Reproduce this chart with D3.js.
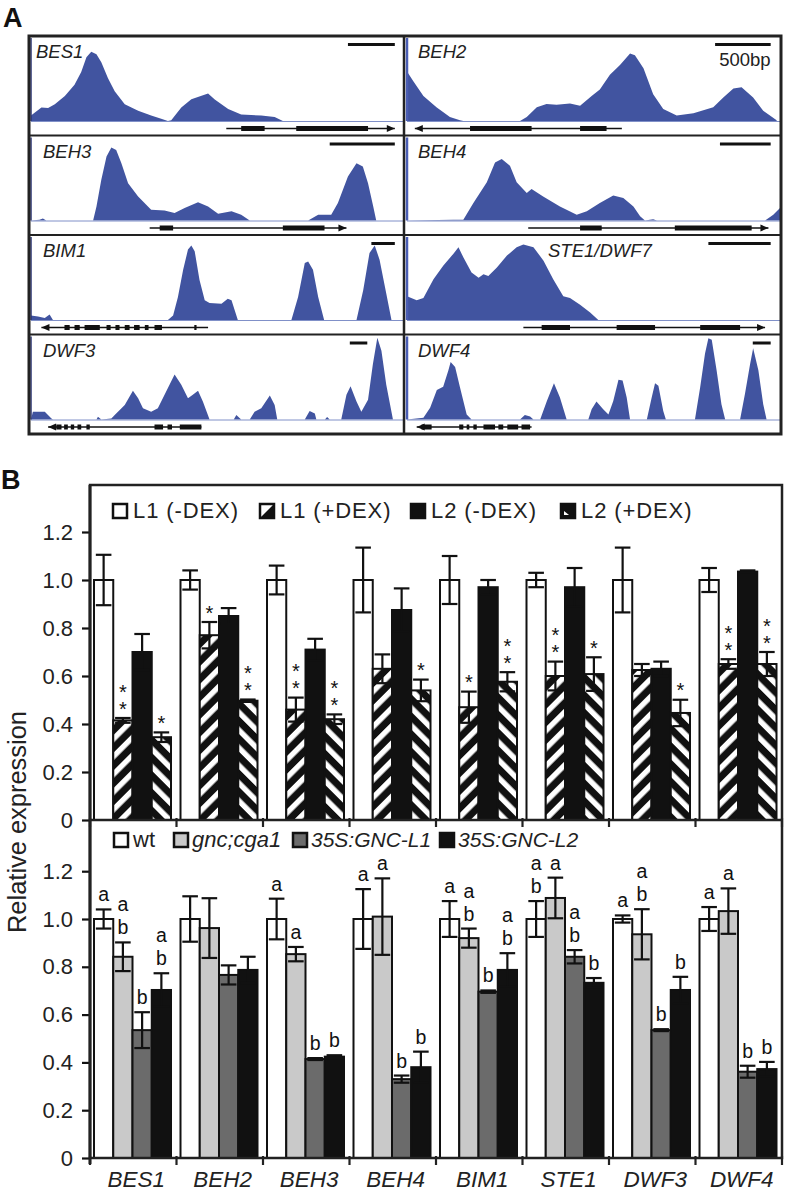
<!DOCTYPE html>
<html><head><meta charset="utf-8">
<script src="https://cdn.jsdelivr.net/npm/d3@7"></script>
<style>body{margin:0;background:#fff}svg{display:block}text{font-family:"Liberation Sans",Arial,sans-serif}</style>
</head><body>
<svg id="fig" width="789" height="1192"></svg>
<script>
// ================= Panel A data (x: % of window, y: % of track height) =================
const covBES1 = [[0,6.6],[2.8,16.3],[4.6,15.6],[6.4,20.2],[9.1,30],[11.7,43.6],[13.5,59.1],[14.9,76.7],[16.2,83.3],[17.6,80.5],[18.9,70.8],[20.7,51.4],[22.5,35.8],[25.2,20.2],[28.8,12.5],[32.3,6.6],[35,2.7],[36.8,0],[37.7,0.8],[40.4,16.3],[43.1,26.1],[47.6,33],[49.4,26],[53,14.4],[56.5,7.8],[61.9,6.6],[65.5,4.7],[67.7,0]];
const covBEH2 = [[0,59.6],[1.7,47.8],[4.4,30.2],[7.9,16.5],[11.5,4.7],[14.2,0.8],[15.1,0],[30.3,0],[32.1,4.7],[34.8,16.5],[37.4,20.4],[40.1,19.6],[43.7,21.2],[46.4,18.4],[49.5,30.2],[51.7,38],[54.4,55.7],[57.1,67.5],[59.8,81.2],[61.1,79.2],[63.4,63.5],[66,32.2],[68.7,14.5],[72.3,6.7],[76.8,9.4],[82.1,16.5],[84.8,28.2],[87.5,39.2],[89.7,40.8],[92.8,28.2],[95.5,12.5],[99.1,0.8]];
const covBEH3 = [[0,0],[2.3,0.8],[3.2,2.4],[4.1,0],[16.7,0],[17.6,17],[18.9,49],[20.3,77],[21.6,88],[22.9,85],[24.3,69],[26.1,45],[28.8,29],[32.3,13],[35.9,12],[38.6,9],[41.3,15],[44.9,22],[47.6,17],[50.3,8],[53.9,11],[56.5,7],[58.8,0],[74.5,0],[77.2,7],[80.7,7],[82.5,21],[85.2,53],[87.5,69],[89.2,65],[90.6,45],[92,17],[92.8,0]];
const covBEH4 = [[0,0],[12.4,0.8],[15.1,0.8],[17.8,21],[21.4,46],[23.6,70],[25.4,74],[27.6,66],[29.4,46],[32.1,33],[33.4,38],[36.5,29],[41,17],[45.5,7],[48.2,11],[51.7,21],[55.3,30],[58,27],[60.7,17],[62.5,5],[63.8,0],[66,1.6],[67,0],[96,0],[98.2,7],[100,15]];
const covBIM1 = [[0,5.3],[1.9,4.1],[3.7,2.4],[5,6.5],[5.9,0],[36.8,0],[38.2,5.3],[39.5,27.8],[40.9,60.4],[42.2,84.9],[43.1,89.8],[44,82.9],[45.3,48.2],[46.7,23.7],[48,20.4],[51.2,19.6],[52.9,25.7],[53.9,23.7],[55.6,0],[70,0],[71.8,27.8],[73.6,68.6],[74.5,70.6],[75.8,60.4],[77.2,27.8],[78.8,0],[87.5,0],[89.3,35.9],[91,80.8],[92.4,89.8],[93.7,72.7],[95.5,31.8],[96.9,0]];
const covSTE1 = [[0,28.6],[2.6,23.7],[4.4,26.5],[7.1,49],[9.7,65.3],[12.4,79.6],[13.8,87.8],[15.1,75.5],[17.3,57.1],[19.2,51],[20.5,55.1],[21.8,53.1],[24.1,63.3],[26.8,77.6],[29.4,87.8],[31.2,91],[33.9,87.8],[36.6,71.4],[39.2,49],[41.9,28.6],[43.7,26.5],[46.4,18.4],[49.1,9],[51.3,0]];
const covDWF3 = [[0,0],[0.5,9.4],[3.7,9.4],[5.5,1.2],[5.9,0],[17.6,0],[18,3.3],[18.9,0],[21.6,1.2],[22.5,5.3],[25.2,17.6],[27.4,34.7],[28.8,25.7],[30.1,13.5],[32.3,9.4],[34.1,13.5],[36.8,38],[38.6,54.3],[40.4,42],[42.2,25.7],[43.5,29.8],[44.9,34.7],[46.2,21.6],[48,0],[54.5,0],[55.2,5.3],[56.5,0],[58.8,0],[60.1,9.4],[61.9,13.5],[64.2,29],[65.5,17.6],[66.2,0],[73.6,0],[74.9,10.2],[76.3,7.3],[76.7,0],[79,0],[79.6,2.9],[80.3,0],[83.4,0],[84.8,29.8],[85.9,40],[87.5,21.6],[88.8,9.4],[90.6,23.7],[91.9,66.5],[93.1,98.4],[94.2,82.9],[95.5,42],[97.3,0]];
const covDWF4 = [[0,0],[4.4,2],[6.2,14.3],[8,35.5],[9.7,39.6],[11.1,59.2],[11.7,69.4],[12.9,63.3],[14.2,38.8],[16,6.1],[17.3,0],[30.3,0],[31.6,5.3],[33,3.7],[33.9,0],[35.7,0],[37.5,22.4],[39.4,43.7],[41,26.5],[42.8,0],[48.6,0],[49.5,12.2],[50.8,21.6],[52.6,12.2],[54,6.1],[55.3,22.4],[56.7,47.8],[57.8,46.9],[58.9,26.5],[59.8,0],[64.3,0],[65.6,26.5],[66.5,43.7],[67.4,40.8],[68.7,10.2],[69.4,0],[77.2,0],[78.6,38.8],[79.9,79.6],[80.8,98],[81.7,96],[83,59.2],[84.3,18.4],[85.3,0],[89.3,0],[90.6,30.6],[92,67.3],[92.8,85.7],[94.2,59.2],[95.5,18.4],[96.4,0]];

// gene models: strand, span, exons (in % of window)
const geneBES1 = {dir: 1, span:[52.5,97.8], exons:[[56.5,62.8],[71.3,90.6]]};
const geneBEH2 = {dir:-1, span:[2.1,57.6], exons:[[16.9,33.4],[46.4,53.5]]};
const geneBEH3 = {dir: 1, span:[31.9,84.8], exons:[[34.6,38.2],[67.7,78.9]]};
const geneBEH4 = {dir: 1, span:[32.5,96.9], exons:[[46.4,52.2],[71.8,92.4]]};
const geneBIM1 = {dir:-1, span:[2.8,47.6], exons:[[9.0,10.4],[11.7,13.1],[14.4,18.5],[20.3,21.4],[22.7,23.8],[25.2,26.5],[27.7,29.2],[30.6,31.6],[33.2,35.2],[43.9,44.5]]};
const geneSTE1 = {dir: 1, span:[31.2,96], exons:[[36.1,43.7],[56.2,66.5],[78.6,89.3]]};
const geneDWF3 = {dir:-1, span:[4.6,45.8], exons:[[6.8,8.2],[8.9,9.9],[10.7,11.6],[12.5,13.5],[14.9,15.8],[33.2,35.5],[36.7,37.9],[40,45.8]]};
const geneDWF4 = {dir:-1, span:[2.6,33.4], exons:[[3.9,6.6],[14,15.1],[16,16.7],[17.8,18.7],[20.5,23.6],[24.5,25.8],[26.9,29.8],[30.7,33]]};

// 500 bp scale bars (in % of window)
const scaleBars = [[85.2,97.8],[82.6,97.5],[80.3,97.8],[83.9,97.5],[91.5,97.8],[80.8,97.5],[85.7,90.4],[92.7,97.5]];
const trackNames = ["BES1","BEH2","BEH3","BEH4","BIM1","STE1/DWF7","DWF3","DWF4"];
const trackCov = [covBES1,covBEH2,covBEH3,covBEH4,covBIM1,covSTE1,covDWF3,covDWF4];
const trackGene = [geneBES1,geneBEH2,geneBEH3,geneBEH4,geneBIM1,geneSTE1,geneDWF3,geneDWF4];

// ================= Panel B data =================
const genes = ["BES1","BEH2","BEH3","BEH4","BIM1","STE1","DWF3","DWF4"];
const upperSeries = ["L1 (-DEX)","L1 (+DEX)","L2 (-DEX)","L2 (+DEX)"];
const L1minus    = [1,1,1,1,1,1,1,1];
const L1minusErr = [0.105,0.04,0.06,0.135,0.1,0.03,0.135,0.05];
const L1plus     = [0.415,0.77,0.46,0.63,0.47,0.60,0.625,0.65];
const L1plusErr  = [0.01,0.055,0.05,0.06,0.065,0.06,0.025,0.02];
const L2minus    = [0.70,0.85,0.71,0.875,0.97,0.97,0.63,1.035];
const L2minusErr = [0.075,0.033,0.045,0.09,0.03,0.08,0.03,0.005];
const L2plus     = [0.345,0.497,0.42,0.54,0.576,0.608,0.446,0.65];
const L2plusErr  = [0.02,0.005,0.02,0.045,0.04,0.07,0.055,0.05];
const L1plusStars = [2,1,2,0,1,2,0,2];
const L2plusStars = [1,2,2,1,2,1,1,2];

const lowerSeries = ["wt","gnc;cga1","35S:GNC-L1","35S:GNC-L2"];
const wtVal    = [1,1,1,1,1,1,1,1];
const wtErr    = [0.04,0.095,0.085,0.125,0.075,0.075,0.015,0.05];
const gncVal   = [0.842,0.962,0.853,1.01,0.92,1.088,0.936,1.033];
const gncErr   = [0.06,0.125,0.03,0.16,0.04,0.085,0.105,0.095];
const gncL1Val = [0.535,0.766,0.414,0.33,0.696,0.842,0.535,0.361];
const gncL1Err = [0.075,0.04,0.004,0.015,0.005,0.028,0.004,0.025];
const gncL2Val = [0.703,0.787,0.424,0.38,0.787,0.733,0.703,0.372];
const gncL2Err = [0.07,0.055,0.006,0.065,0.07,0.02,0.055,0.03];
const wtLetters   = ["a","","a","a","a","ab","a","a"];
const gncLetters  = ["ab","","a","a","ab","a","ab","a"];
const L1Letters   = ["b","","b","b","b","ab","b","b"];
const L2Letters   = ["ab","","b","b","ab","b","b","b"];
const yTicks = [0,0.2,0.4,0.6,0.8,1.0,1.2];

// ================= Drawing =================
const svg = d3.select("#fig");
const INK = "#111";
const BLUE = "#4154a0";

const defs = svg.append("defs");
function hatch(id, angle){
  const p = defs.append("pattern").attr("id",id).attr("patternUnits","userSpaceOnUse")
    .attr("width",12.5).attr("height",12.5).attr("patternTransform",`rotate(${angle})`);
  p.append("rect").attr("width",12.5).attr("height",12.5).attr("fill",INK);
  p.append("rect").attr("x",0).attr("width",5.4).attr("height",12.5).attr("fill","#fff");
}
hatch("hatchL1",45);
hatch("hatchL2",-45);

svg.append("text").attr("x",3).attr("y",27).attr("font-size",27).attr("font-weight","bold").attr("fill",INK).text("A");
svg.append("text").attr("x",1).attr("y",489).attr("font-size",27).attr("font-weight","bold").attr("fill",INK).text("B");

// ---- Panel A
const A = {left:29, right:781, top:36, bottom:434, mid:404};
const rowH = (A.bottom - A.top)/4;
const cols = [[31,403],[407,780]];
const gA = svg.append("g");
trackNames.forEach((name,i)=>{
  const col = i%2, row = Math.floor(i/2);
  const rowTop = A.top + row*rowH;
  const base = rowTop + 85;
  const xs = d3.scaleLinear([0,100], cols[col]);
  const ys = d3.scaleLinear([0,100], [base, base-83]);
  const g = gA.append("g");
  g.append("path").datum(trackCov[i])
    .attr("d", d3.area().x(d=>xs(d[0])).y0(base).y1(d=>ys(d[1])))
    .attr("fill",BLUE);
  g.append("line").attr("x1",cols[col][0]).attr("x2",cols[col][1]).attr("y1",base+0.5).attr("y2",base+0.5)
    .attr("stroke","#8090c8").attr("stroke-width",1);
  g.append("line").attr("x1",cols[col][0]).attr("x2",cols[col][0]).attr("y1",rowTop+2).attr("y2",base)
    .attr("stroke", col===0 ? "#2b3472" : "#4a5db4").attr("stroke-width", col===0?1.5:2.5);
  const gm = trackGene[i];
  const gy = base + 7.5;
  g.append("line").attr("x1",xs(gm.span[0])).attr("x2",xs(gm.span[1])).attr("y1",gy).attr("y2",gy)
    .attr("stroke",INK).attr("stroke-width",1.3);
  g.selectAll("rect.exon").data(gm.exons).join("rect").attr("class","exon")
    .attr("x",d=>xs(d[0])).attr("width",d=>xs(d[1])-xs(d[0])).attr("y",gy-2.5).attr("height",5).attr("fill",INK);
  const tip = gm.dir>0 ? xs(gm.span[1]) : xs(gm.span[0]);
  const back = gm.dir>0 ? tip-8 : tip+8;
  g.append("path").attr("d",`M${tip},${gy} L${back},${gy-3.5} L${back},${gy+3.5} Z`).attr("fill",INK);
  g.append("line").attr("x1",xs(scaleBars[i][0])).attr("x2",xs(scaleBars[i][1]))
    .attr("y1",rowTop+8.5).attr("y2",rowTop+8.5).attr("stroke",INK).attr("stroke-width",3);
  const lx = name.startsWith("STE1") ? 548 : (col===0 ? (row===0?36:43) : 418);
  g.append("text").attr("x",lx).attr("y",rowTop+22).attr("font-size",18.5).attr("font-style","italic")
    .attr("fill","#222").text(name);
  if(i===1){
    g.append("text").attr("x",xs(scaleBars[i][1])).attr("y",rowTop+30).attr("text-anchor","end")
      .attr("font-size",18.5).attr("fill","#222").text("500bp");
  }
});
for(let r=1;r<4;r++){
  gA.append("line").attr("x1",A.left).attr("x2",A.right).attr("y1",A.top+r*rowH).attr("y2",A.top+r*rowH)
    .attr("stroke","#222").attr("stroke-width",2.2);
}
gA.append("line").attr("x1",A.mid).attr("x2",A.mid).attr("y1",A.top).attr("y2",A.bottom).attr("stroke","#222").attr("stroke-width",2.5);
gA.append("rect").attr("x",A.left).attr("y",A.top).attr("width",A.right-A.left).attr("height",A.bottom-A.top)
  .attr("fill","none").attr("stroke","#222").attr("stroke-width",3);

// ---- Panel B
const B = {left:90, right:782, top:485, mid:820, bottom:1158};
const x = d3.scaleBand(genes,[B.left,B.right]);
const xiU = d3.scaleBand(upperSeries,[4,81]);
const xiL = d3.scaleBand(lowerSeries,[4,81]);
const yU = d3.scaleLinear([0,1],[B.mid,B.mid-240]);
const yL = d3.scaleLinear([0,1],[B.bottom,B.bottom-239]);

function drawBars(g, series, vals, errs, fills, xi, y){
  series.forEach((s,k)=>{
    const data = genes.map((gname,j)=>({g:gname, v:vals[k][j], e:errs[k][j]}));
    g.append("g").selectAll("rect").data(data).join("rect")
      .attr("x",d=>x(d.g)+xi(s)).attr("width",xi.bandwidth())
      .attr("y",d=>y(d.v)).attr("height",d=>y(0)-y(d.v))
      .attr("fill",fills[k]).attr("stroke",INK).attr("stroke-width",2);
  });
  series.forEach((s,k)=>{
    const data = genes.map((gname,j)=>({g:gname, v:vals[k][j], e:errs[k][j]}));
    const bw = xi.bandwidth();
    const eg = g.append("g").attr("stroke",INK).attr("stroke-width",2.2);
    data.forEach(d=>{
      const cx = x(d.g)+xi(s)+bw/2, cw = 7.8;
      eg.append("line").attr("x1",cx).attr("x2",cx).attr("y1",y(d.v+d.e)).attr("y2",y(d.v-d.e));
      eg.append("line").attr("x1",cx-cw).attr("x2",cx+cw).attr("y1",y(d.v+d.e)).attr("y2",y(d.v+d.e));
      eg.append("line").attr("x1",cx-cw).attr("x2",cx+cw).attr("y1",y(d.v-d.e)).attr("y2",y(d.v-d.e));
    });
  });
}

const gB = svg.append("g");
drawBars(gB, upperSeries, [L1minus,L1plus,L2minus,L2plus], [L1minusErr,L1plusErr,L2minusErr,L2plusErr],
  ["#fff","url(#hatchL1)",INK,"url(#hatchL2)"], xiU, yU);
drawBars(gB, lowerSeries, [wtVal,gncVal,gncL1Val,gncL2Val], [wtErr,gncErr,gncL1Err,gncL2Err],
  ["#fff","#c9c9c9","#6b6b6b",INK], xiL, yL);

// significance stars: one vertical text run per bar
function stars(series, vals, errs, counts){
  genes.forEach((gname,j)=>{
    const n = counts[j];
    if(!n) return;
    const cx = x(gname)+xiU(series)+xiU.bandwidth()/2;
    const bottomCenter = yU(vals[j]+errs[j]) - 16;
    const midY = bottomCenter - (n-1)*17/2;
    gB.append("text").attr("x",cx).attr("y",midY+4).attr("text-anchor","middle")
      .style("writing-mode","vertical-rl").style("text-orientation","upright")
      .attr("font-size",20).attr("letter-spacing",-5).attr("fill",INK)
      .text("*".repeat(n));
  });
}
stars("L1 (+DEX)", L1plus, L1plusErr, L1plusStars);
stars("L2 (+DEX)", L2plus, L2plusErr, L2plusStars);

function letters(series, vals, errs, labs){
  genes.forEach((gname,j)=>{
    if(!labs[j]) return;
    const cx = x(gname)+xiL(series)+xiL.bandwidth()/2;
    const chars = labs[j].split(""), n = chars.length;
    const bottomY = yL(vals[j]+errs[j]) - 8;
    chars.forEach((c,k)=>{
      gB.append("text").attr("x",cx).attr("y",bottomY-(n-1-k)*23).attr("text-anchor","middle")
        .attr("font-size",19.5).attr("fill",INK).text(c);
    });
  });
}
letters("wt", wtVal, wtErr, wtLetters);
letters("gnc;cga1", gncVal, gncErr, gncLetters);
letters("35S:GNC-L1", gncL1Val, gncL1Err, L1Letters);
letters("35S:GNC-L2", gncL2Val, gncL2Err, L2Letters);

const fmt = d=> d===0 ? "0" : d.toFixed(1);
function yAxis(scale){
  const ax = gB.append("g").attr("transform",`translate(${B.left},0)`)
    .call(d3.axisLeft(scale).tickValues(yTicks).tickFormat(fmt).tickSize(8).tickPadding(9));
  ax.select(".domain").remove();
  ax.selectAll(".tick line").attr("stroke",INK).attr("stroke-width",2.2);
  ax.selectAll(".tick text").attr("font-size",22).attr("fill","#222").attr("font-family","Liberation Sans, Arial, sans-serif");
}
yAxis(yU); yAxis(yL);

gB.append("rect").attr("x",B.left).attr("y",B.top).attr("width",B.right-B.left).attr("height",B.bottom-B.top)
  .attr("fill","none").attr("stroke","#222").attr("stroke-width",2.5);
gB.append("line").attr("x1",B.left).attr("x2",B.right).attr("y1",B.mid).attr("y2",B.mid).attr("stroke","#222").attr("stroke-width",2.5);
gB.append("line").attr("x1",B.left).attr("x2",B.left).attr("y1",B.top).attr("y2",B.bottom+6).attr("stroke","#222").attr("stroke-width",3);

const bounds = genes.map(g=>x(g)).concat([x.range()[1]]);
[B.mid, B.bottom].forEach(yy=>{
  gB.append("g").selectAll("line").data(bounds).join("line")
    .attr("x1",d=>d).attr("x2",d=>d).attr("y1",yy-2).attr("y2",yy+7).attr("stroke","#222").attr("stroke-width",2.2);
});
gB.append("g").selectAll("text").data(genes).join("text")
  .attr("x",d=>x(d)+x.bandwidth()/2+3).attr("y",1187).attr("text-anchor","middle")
  .attr("font-size",22.5).attr("font-style","italic").attr("fill","#222").text(d=>d);

svg.append("text").attr("transform","translate(26,822) rotate(-90)").attr("text-anchor","middle")
  .attr("font-size",26).attr("textLength",222).attr("lengthAdjust","spacingAndGlyphs")
  .attr("fill","#222").text("Relative expression");

const legU = gB.append("g");
const legUx = [113,260,411,561];
upperSeries.forEach((s,k)=>{
  const sx = legUx[k], sy = 504, sz = 14;
  const dark = (k>=2);
  legU.append("rect").attr("x",sx).attr("y",sy).attr("width",sz).attr("height",sz)
    .attr("fill",dark?INK:"#fff").attr("stroke",INK).attr("stroke-width",2.5);
  if(k===1) legU.append("path").attr("d",`M${sx+sz},${sy} L${sx+sz},${sy+sz} L${sx},${sy+sz} Z`).attr("fill",INK);
  if(k===3) legU.append("path").attr("d",`M${sx+3},${sy+sz-3} L${sx+3},${sy+7} L${sx+8},${sy+sz-3} Z`).attr("fill","#fff");
  legU.append("text").attr("x",sx+sz+6).attr("y",sy+14).attr("font-size",22).attr("letter-spacing",0.9)
    .attr("fill","#222").text(s);
});

const legL = gB.append("g");
const legLx = [114,174,293,440];
const legLfill = ["#fff","#c9c9c9","#6b6b6b",INK];
lowerSeries.forEach((s,k)=>{
  const sx = legLx[k], sy = 833, sz = 14;
  legL.append("rect").attr("x",sx).attr("y",sy).attr("width",sz).attr("height",sz).attr("fill",legLfill[k]).attr("stroke",INK).attr("stroke-width",2.5);
  legL.append("text").attr("x",sx+sz+(k===0?5:4)).attr("y",sy+14).attr("font-size",k>=2?21:22)
    .attr("font-style", k===0 ? "normal" : "italic").attr("fill","#222").text(s);
});
</script>
</body></html>
